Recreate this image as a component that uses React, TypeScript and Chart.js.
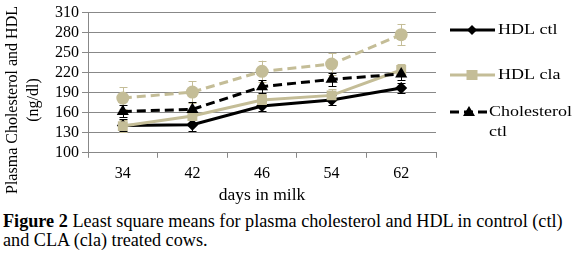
import React, { useEffect, useRef } from "react";
import { Chart, registerables } from "chart.js";
Chart.register(...registerables);

const categories = ["34", "42", "46", "54", "62"];
const hdlCtl = [141, 142, 170, 179, 197];
const hdlCla = [140, 155, 179, 186, 224];
const cholCtl = [162, 165, 199, 210, 218];
const cholCla = [182, 191, 222, 233, 277];
const hdlCtlErr = [9, 10, 8, 8, 8];
const hdlClaErr = [9, 9, 9, 9, 9];
const cholCtlErr = [9, 11, 10, 10, 9];
const cholClaErr = [16, 16, 16, 16, 16];
const yTicks = { min: 100, max: 310, step: 30 };
const yTitle = ["Plasma Cholesterol and HDL", "(ng/dl)"];
const xTitle = "days in milk";

const TAN = "#C4BD97";
const FONT = "'Liberation Serif', 'Times New Roman', serif";

const errorBars = {
  id: "errorBars",
  beforeDatasetsDraw(chart: any) {
    const ctx = chart.ctx;
    const ys = chart.scales.y;
    chart.data.datasets.forEach((ds: any, i: number) => {
      const meta = chart.getDatasetMeta(i);
      const errs = ds.errs as number[];
      ctx.save();
      ctx.strokeStyle = ds.borderColor;
      ctx.lineWidth = 1;
      meta.data.forEach((pt: any, j: number) => {
        const v = ds.data[j];
        const top = ys.getPixelForValue(v + errs[j]);
        const bot = ys.getPixelForValue(v - errs[j]);
        const x = Math.round(pt.x) + 0.5;
        ctx.beginPath();
        ctx.moveTo(x, top);
        ctx.lineTo(x, bot);
        ctx.moveTo(x - 4, Math.round(top) + 0.5);
        ctx.lineTo(x + 4, Math.round(top) + 0.5);
        ctx.moveTo(x - 4, Math.round(bot) + 0.5);
        ctx.lineTo(x + 4, Math.round(bot) + 0.5);
        ctx.stroke();
      });
      ctx.restore();
    });
  },
};

const yTitlePlugin = {
  id: "yTitle",
  afterDraw(chart: any) {
    const ctx = chart.ctx as CanvasRenderingContext2D;
    ctx.save();
    ctx.fillStyle = "#000";
    ctx.font = `16px ${FONT}`;
    ctx.textAlign = "center";
    ctx.textBaseline = "alphabetic";
    const baselines = [17, 38];
    yTitle.forEach((t, k) => {
      ctx.save();
      ctx.translate(baselines[k], 100);
      ctx.rotate(-Math.PI / 2);
      ctx.fillText(t, 0, 0);
      ctx.restore();
    });
    ctx.restore();
  },
};

function drawMarker(ctx: CanvasRenderingContext2D, kind: string, x: number, y: number, color: string) {
  ctx.fillStyle = color;
  ctx.beginPath();
  if (kind === "diamond") {
    ctx.moveTo(x, y - 5);
    ctx.lineTo(x + 5, y);
    ctx.lineTo(x, y + 5);
    ctx.lineTo(x - 5, y);
  } else if (kind === "square") {
    ctx.rect(x - 5.5, y - 5, 11, 10);
  } else if (kind === "triangle") {
    ctx.moveTo(x, y - 6);
    ctx.lineTo(x + 6, y + 4);
    ctx.lineTo(x - 6, y + 4);
  }
  ctx.closePath();
  ctx.fill();
}

const legendPlugin = {
  id: "customLegend",
  afterDraw(chart: any) {
    const ctx = chart.ctx as CanvasRenderingContext2D;
    const items = [
      { label: ["HDL ctl"], color: "#000", dash: [] as number[], marker: "diamond", y: 30, x1: 495, mx: 472, tx: 498 },
      { label: ["HDL cla"], color: TAN, dash: [] as number[], marker: "square", y: 75, x1: 495, mx: 472, tx: 498 },
      { label: ["Cholesterol", "ctl"], color: "#000", dash: [9, 5], marker: "triangle", y: 112, x1: 487, mx: 469, tx: 489 },
    ];
    ctx.save();
    items.forEach((it) => {
      ctx.strokeStyle = it.color;
      ctx.lineWidth = 3;
      ctx.setLineDash(it.dash);
      ctx.beginPath();
      ctx.moveTo(450, it.y);
      ctx.lineTo(it.x1, it.y);
      ctx.stroke();
      ctx.setLineDash([]);
      drawMarker(ctx, it.marker, it.mx, it.y, it.color);
      ctx.fillStyle = "#000";
      ctx.font = `15px ${FONT}`;
      ctx.textBaseline = "middle";
      ctx.textAlign = "left";
      it.label.forEach((l, k) => {
        ctx.save();
        ctx.translate(it.tx, it.y + k * 20);
        ctx.scale(1.2, 1);
        ctx.fillText(l, 0, 0);
        ctx.restore();
      });
    });
    ctx.restore();
  },
};

export default function App() {
  const ref = useRef<HTMLCanvasElement | null>(null);
  useEffect(() => {
    if (!ref.current) return;
    const chart = new Chart(ref.current, {
      type: "line",
      data: {
        labels: categories,
        datasets: [
          {
            label: "Cholesterol cla",
            data: cholCla,
            errs: cholClaErr,
            borderColor: TAN,
            backgroundColor: TAN,
            borderWidth: 3,
            borderDash: [9, 5],
            pointStyle: "circle",
            pointRadius: 6.5,
            pointBorderWidth: 0,
          } as any,
          {
            label: "Cholesterol ctl",
            data: cholCtl,
            errs: cholCtlErr,
            borderColor: "#000",
            backgroundColor: "#000",
            borderWidth: 3,
            borderDash: [9, 5],
            pointStyle: "triangle",
            pointRadius: 7,
            pointBorderWidth: 0,
          } as any,
          {
            label: "HDL cla",
            data: hdlCla,
            errs: hdlClaErr,
            borderColor: TAN,
            backgroundColor: TAN,
            borderWidth: 3,
            pointStyle: "rect",
            pointRadius: 7,
            pointBorderWidth: 0,
          } as any,
          {
            label: "HDL ctl",
            data: hdlCtl,
            errs: hdlCtlErr,
            borderColor: "#000",
            backgroundColor: "#000",
            borderWidth: 3,
            pointStyle: "rectRot",
            pointRadius: 6,
            pointBorderWidth: 0,
          } as any,
        ],
      },
      options: {
        responsive: false,
        animation: false,
        layout: { padding: { left: 0, right: 144, top: 0, bottom: 0 } },
        plugins: { legend: { display: false }, tooltip: { enabled: false } },
        scales: {
          x: {
            offset: true,
            grid: { offset: true, drawOnChartArea: false, drawTicks: true, tickLength: 5, color: "#888" },
            border: { color: "#888" },
            ticks: { color: "#000", font: { family: FONT, size: 16 }, padding: 6 },
            title: {
              display: true,
              text: xTitle,
              color: "#000",
              font: { family: FONT, size: 17.5 },
              padding: { top: -4, bottom: 0 },
            },
          },
          y: {
            min: yTicks.min,
            max: yTicks.max,
            afterFit: (s: any) => {
              s.width = 88;
            },
            grid: { color: "#888", tickLength: 6 },
            border: { color: "#888" },
            ticks: {
              stepSize: yTicks.step,
              autoSkip: false,
              color: "#000",
              font: { family: FONT, size: 16 },
              padding: 3,
            },
            title: { display: false },
          },
        },
      },
      plugins: [errorBars, legendPlugin, yTitlePlugin],
    });
    return () => chart.destroy();
  }, []);
  return (
    <div style={{ position: "absolute", left: 0, top: 0, width: 580, height: 254, background: "#fff", fontFamily: FONT }}>
      <canvas ref={ref} width={580} height={206} style={{ display: "block" }} />
      <div
        style={{
          position: "absolute",
          left: 3,
          top: 212,
          fontSize: 18.2,
          lineHeight: "19px",
          color: "#000",
          whiteSpace: "nowrap",
        }}
      >
        <b>Figure 2</b> Least square means for plasma cholesterol and HDL in control (ctl)
        <br />
        and CLA (cla) treated cows.
      </div>
    </div>
  );
}
